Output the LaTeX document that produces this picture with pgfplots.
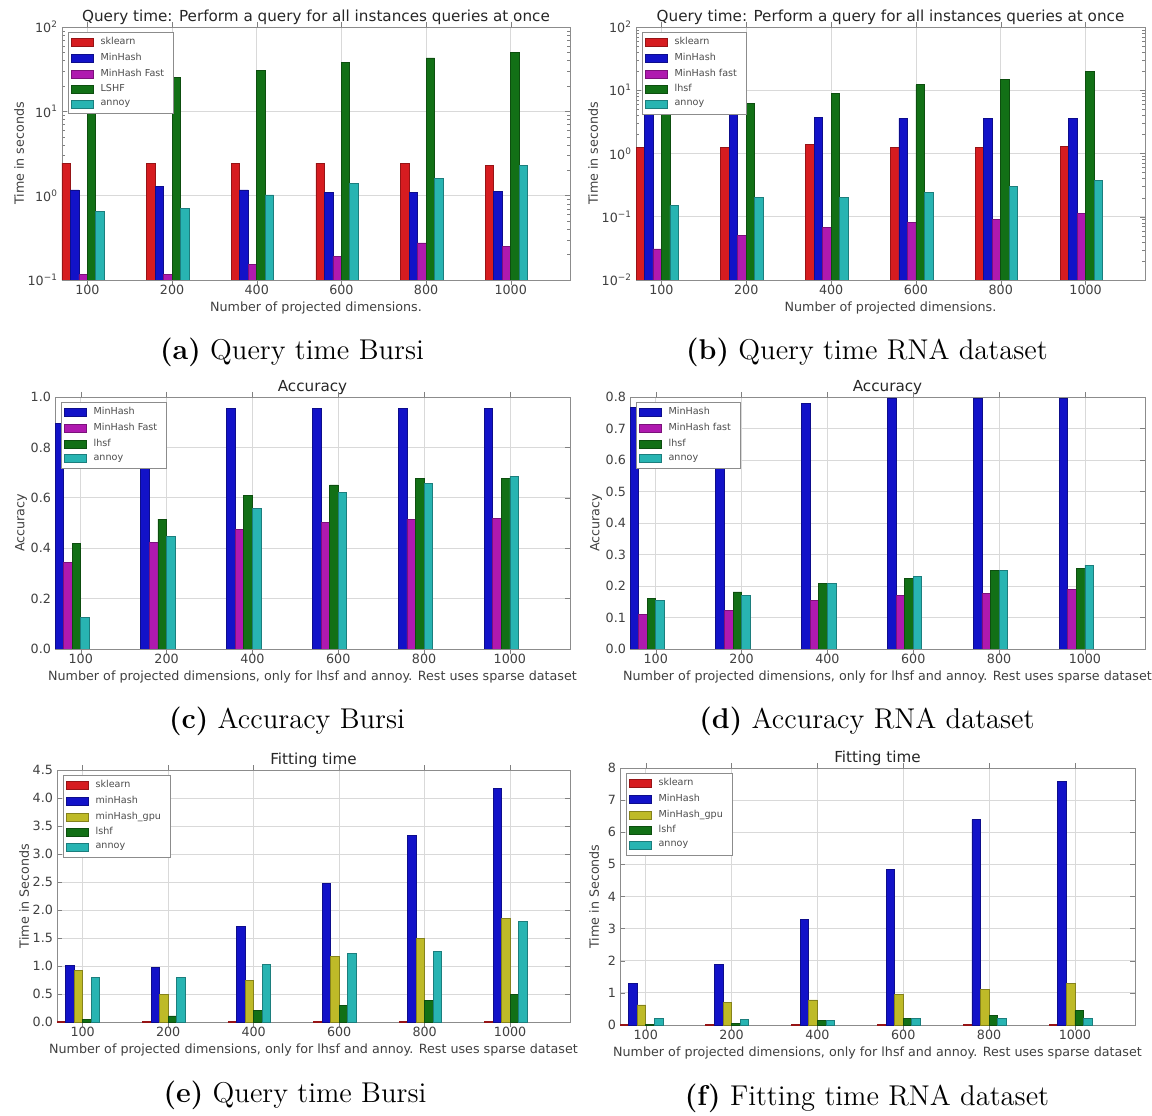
\documentclass[border=0pt]{standalone}
\usepackage{fontspec}
\usepackage{pgfplots}
\pgfplotsset{compat=1.18}
\newfontfamily\dv{DejaVu Sans}
\newcommand\tf{\dv\fontsize{6.35}{7.5}\selectfont}
\newcommand\ttl{\dv\fontsize{7.6}{9}\selectfont}
\newcommand\lf{\dv\fontsize{4.8}{5.6}\selectfont}
\newcommand\capf{\fontsize{14.3}{17}\selectfont}
\definecolor{cR}{RGB}{214,28,32}
\definecolor{cB}{RGB}{18,18,200}
\definecolor{cM}{RGB}{175,25,175}
\definecolor{cG}{RGB}{18,112,22}
\definecolor{cC}{RGB}{40,180,178}
\definecolor{cY}{RGB}{190,186,40}
\pgfplotsset{
  mybar/.style={
    scale only axis, ybar, bar width=0.1, xmin=0, xmax=6, enlargelimits=false,
    xtick={0.3,1.3,2.3,3.3,4.3,5.3}, xticklabels={100,200,400,600,800,1000},
    grid=major, grid style={black!15, line width=0.4pt},
    axis line style={black!45}, tick style={black!50},
    major tick length=2.5pt, minor tick length=1.5pt,
    tick label style={font=\tf, text=black!75},
    label style={font=\tf, text=black!75},
    title style={font=\ttl, text=black!85},
    every axis title shift=-2.5pt,
    xticklabel shift=-3.5pt, xlabel shift=-3.5pt,
    yticklabel shift=-1.5pt, ylabel shift=-5pt,
    legend cell align=left,
    legend style={at={(0,1)}, anchor=north west, xshift=3pt, yshift=-2.5pt,
      font=\lf, draw=black!45, fill=white, inner xsep=1.5pt, inner ysep=0.6pt, row sep=-1.3pt, text=black!70,
      nodes={inner xsep=3.2pt}},
    legend image code/.code={\draw[##1] (0pt,-2pt) rectangle (11pt,2pt);},
  },
  s0/.style={bar shift=0.05}, s1/.style={bar shift=0.15}, s2/.style={bar shift=0.25},
  s3/.style={bar shift=0.35}, s4/.style={bar shift=0.45},
  linfmt/.style={yticklabel style={/pgf/number format/.cd, fixed, fixed zerofill, precision=1, assume math mode=true}},
}
\begin{document}
\begin{tikzpicture}
\useasboundingbox (0,0) rectangle (576pt,557.5pt);
% (a)
\begin{axis}[mybar, at={(31pt,417.5pt)}, anchor=south west, width=254pt, height=126.5pt,
  ymode=log, log origin y=infty, ymin=0.1, ymax=100,
  ytick={0.1,1,10,100}, yticklabels={10\textsuperscript{−1},10\textsuperscript{0},10\textsuperscript{1},10\textsuperscript{2}},
  title={Query time: Perform a query for all instances queries at once},
  ylabel={Time in seconds}, xlabel={Number of projected dimensions.}]
\addplot[s0, fill=cR, draw=cR!70!black] coordinates {(0,2.43)(1,2.43)(2,2.43)(3,2.43)(4,2.43)(5,2.3)};
\addplot[s1, fill=cB, draw=cB!70!black] coordinates {(0,1.17)(1,1.28)(2,1.17)(3,1.10)(4,1.10)(5,1.12)};
\addplot[s2, fill=cM, draw=cM!70!black] coordinates {(0,0.115)(1,0.115)(2,0.152)(3,0.189)(4,0.275)(5,0.25)};
\addplot[s3, fill=cG, draw=cG!70!black] coordinates {(0,20)(1,25.5)(2,30.5)(3,38.4)(4,43)(5,49.5)};
\addplot[s4, fill=cC, draw=cC!70!black] coordinates {(0,0.65)(1,0.71)(2,1.02)(3,1.38)(4,1.61)(5,2.28)};
\legend{sklearn,MinHash,MinHash Fast,LSHF,annoy}
\end{axis}
% (b)
\begin{axis}[mybar, at={(318pt,417.5pt)}, anchor=south west, width=254.5pt, height=126.5pt,
  ymode=log, log origin y=infty, ymin=0.01, ymax=100,
  ytick={0.01,0.1,1,10,100}, yticklabels={10\textsuperscript{−2},10\textsuperscript{−1},10\textsuperscript{0},10\textsuperscript{1},10\textsuperscript{2}},
  title={Query time: Perform a query for all instances queries at once},
  ylabel={Time in seconds}, xlabel={Number of projected dimensions.}]
\addplot[s0, fill=cR, draw=cR!70!black] coordinates {(0,1.26)(1,1.26)(2,1.38)(3,1.26)(4,1.26)(5,1.30)};
\addplot[s1, fill=cB, draw=cB!70!black] coordinates {(0,4.5)(1,4.2)(2,3.76)(3,3.6)(4,3.6)(5,3.6)};
\addplot[s2, fill=cM, draw=cM!70!black] coordinates {(0,0.031)(1,0.050)(2,0.067)(3,0.082)(4,0.092)(5,0.111)};
\addplot[s3, fill=cG, draw=cG!70!black] coordinates {(0,4.5)(1,6.1)(2,8.8)(3,12.2)(4,14.7)(5,19.9)};
\addplot[s4, fill=cC, draw=cC!70!black] coordinates {(0,0.150)(1,0.199)(2,0.199)(3,0.244)(4,0.30)(5,0.374)};
\legend{sklearn,MinHash,MinHash fast,lhsf,annoy}
\end{axis}
% (c)
\begin{axis}[mybar, linfmt, at={(27.5pt,233pt)}, anchor=south west, width=257.5pt, height=126pt,
  ymin=0, ymax=1.0, ytick={0,0.2,0.4,0.6,0.8,1.0},
  title={Accuracy}, ylabel={Accuracy},
  xlabel={Number of projected dimensions, only for lhsf and annoy. Rest uses sparse dataset}]
\addplot[s0, fill=cB, draw=cB!70!black] coordinates {(0,0.894)(1,0.92)(2,0.956)(3,0.956)(4,0.956)(5,0.955)};
\addplot[s1, fill=cM, draw=cM!70!black] coordinates {(0,0.343)(1,0.422)(2,0.473)(3,0.502)(4,0.515)(5,0.518)};
\addplot[s2, fill=cG, draw=cG!70!black] coordinates {(0,0.418)(1,0.515)(2,0.608)(3,0.651)(4,0.675)(5,0.677)};
\addplot[s3, fill=cC, draw=cC!70!black] coordinates {(0,0.126)(1,0.445)(2,0.559)(3,0.622)(4,0.657)(5,0.685)};
\legend{MinHash,MinHash Fast,lhsf,annoy}
\end{axis}
% (d)
\begin{axis}[mybar, linfmt, at={(315pt,233pt)}, anchor=south west, width=257.5pt, height=126pt,
  ymin=0, ymax=0.8, ytick={0,0.1,0.2,0.3,0.4,0.5,0.6,0.7,0.8},
  title={Accuracy}, ylabel={Accuracy},
  xlabel={Number of projected dimensions, only for lhsf and annoy. Rest uses sparse dataset}]
\addplot[s0, fill=cB, draw=cB!70!black] coordinates {(0,0.768)(1,0.77)(2,0.781)(3,0.797)(4,0.795)(5,0.795)};
\addplot[s1, fill=cM, draw=cM!70!black] coordinates {(0,0.109)(1,0.123)(2,0.154)(3,0.171)(4,0.176)(5,0.189)};
\addplot[s2, fill=cG, draw=cG!70!black] coordinates {(0,0.160)(1,0.181)(2,0.207)(3,0.223)(4,0.248)(5,0.255)};
\addplot[s3, fill=cC, draw=cC!70!black] coordinates {(0,0.155)(1,0.171)(2,0.207)(3,0.230)(4,0.250)(5,0.266)};
\legend{MinHash,MinHash fast,lhsf,annoy}
\end{axis}
% (e)
\begin{axis}[mybar, linfmt, at={(28.5pt,46.5pt)}, anchor=south west, width=256.5pt, height=126pt,
  ymin=0, ymax=4.5, ytick={0,0.5,1,1.5,2,2.5,3,3.5,4,4.5},
  title={Fitting time}, ylabel={Time in Seconds},
  xlabel={Number of projected dimensions, only for lhsf and annoy. Rest uses sparse dataset}]
\addplot[s0, fill=cR, draw=cR!70!black] coordinates {(0,0.003)(1,0.003)(2,0.003)(3,0.003)(4,0.003)(5,0.01)};
\addplot[s1, fill=cB, draw=cB!70!black] coordinates {(0,1.016)(1,0.974)(2,1.70)(3,2.47)(4,3.335)(5,4.17)};
\addplot[s2, fill=cY, draw=cY!70!black] coordinates {(0,0.915)(1,0.496)(2,0.747)(3,1.166)(4,1.50)(5,1.853)};
\addplot[s3, fill=cG, draw=cG!70!black] coordinates {(0,0.048)(1,0.108)(2,0.209)(3,0.30)(4,0.39)(5,0.496)};
\addplot[s4, fill=cC, draw=cC!70!black] coordinates {(0,0.795)(1,0.795)(2,1.022)(3,1.231)(4,1.26)(5,1.79)};
\legend{sklearn,minHash,minHash\_gpu,lshf,annoy}
\end{axis}
% (f)
\begin{axis}[mybar, at={(310pt,45pt)}, anchor=south west, width=257.5pt, height=128.5pt,
  ymin=0, ymax=8, ytick={0,1,2,3,4,5,6,7,8}, ylabel shift=-2.5pt,
  yticklabel style={/pgf/number format/assume math mode=true},
  title={Fitting time}, ylabel={Time in Seconds},
  xlabel={Number of projected dimensions, only for lhsf and annoy. Rest uses sparse dataset}]
\addplot[s0, fill=cR, draw=cR!70!black] coordinates {(0,0.02)(1,0.02)(2,0.01)(3,0.01)(4,0.01)(5,0.01)};
\addplot[s1, fill=cB, draw=cB!70!black] coordinates {(0,1.28)(1,1.875)(2,3.29)(3,4.84)(4,6.39)(5,7.58)};
\addplot[s2, fill=cY, draw=cY!70!black] coordinates {(0,0.625)(1,0.69)(2,0.78)(3,0.94)(4,1.10)(5,1.28)};
\addplot[s3, fill=cG, draw=cG!70!black] coordinates {(0,0.03)(1,0.04)(2,0.135)(3,0.21)(4,0.29)(5,0.45)};
\addplot[s4, fill=cC, draw=cC!70!black] coordinates {(0,0.21)(1,0.17)(2,0.135)(3,0.19)(4,0.19)(5,0.19)};
\legend{sklearn,MinHash,MinHash\_gpu,lshf,annoy}
\end{axis}
% captions
\node[font=\capf, inner sep=0pt] at (146pt,381.5pt) {\textbf{(a)} Query time Bursi};
\node[font=\capf, inner sep=0pt] at (433.5pt,381.5pt) {\textbf{(b)} Query time RNA dataset};
\node[font=\capf, inner sep=0pt] at (143.5pt,197pt) {\textbf{(c)} Accuracy Bursi};
\node[font=\capf, inner sep=0pt] at (433.5pt,197pt) {\textbf{(d)} Accuracy RNA dataset};
\node[font=\capf, inner sep=0pt] at (147.5pt,10pt) {\textbf{(e)} Query time Bursi};
\node[font=\capf, inner sep=0pt] at (433.5pt,8.5pt) {\textbf{(f)} Fitting time RNA dataset};
\end{tikzpicture}
\end{document}
